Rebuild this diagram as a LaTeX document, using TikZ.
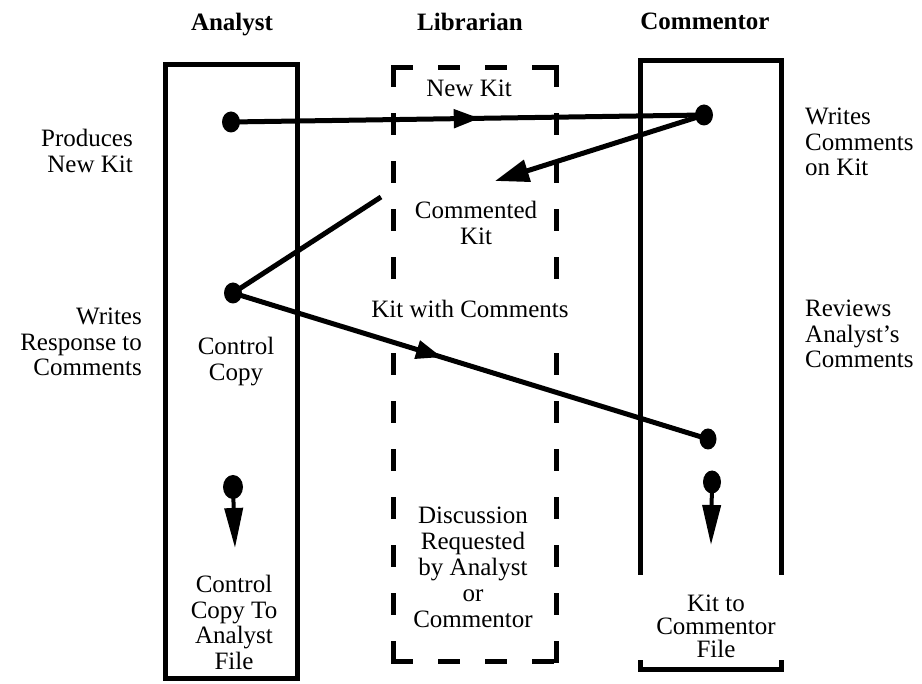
\documentclass[tikz,border=0pt]{standalone}
\usepackage{fontspec}
\setmainfont{Liberation Serif}
\usetikzlibrary{arrows.meta,shapes.geometric,decorations.markings}
\tikzset{
  dot/.style={ellipse,fill=black,draw=none,inner sep=0pt,minimum width=17pt,minimum height=21pt},
  conn/.style={line width=5pt},
  boxline/.style={line width=5pt},
  dashline/.style={line width=5pt,line cap=rect},
  hdash/.style={dashline,dash pattern=on 17pt off 30pt},
  vdash/.style={dashline,dash pattern=on 17pt off 31.04pt},
  lbl/.style={inner sep=0pt,font=\fontsize{25}{25.5}\selectfont},
  ttl/.style={inner sep=0pt,font=\fontsize{25}{25.5}\selectfont\bfseries},
  midarrow/.style={postaction={decorate},decoration={markings,
      mark=at position #1 with {\arrow{Triangle[length=26pt,width=18pt]}}}}
}
\begin{document}
\begin{tikzpicture}[x=1pt,y=-1pt]
\useasboundingbox (0,0) rectangle (922,684);
% titles
\node[ttl,anchor=base] (tA) at (232,31) {Analyst};
\node[ttl,anchor=base] (tL) at (470,31) {Librarian};
\node[ttl,anchor=base] (tC) at (705,30) {Commentor};
% Analyst box
\draw[boxline] (165,65) rectangle (297,678);
% Librarian dashed box (one dash left out on each side, behind "Kit with Comments")
\draw[hdash] (393,67.5) -- (556,67.5);
\draw[hdash] (393,661) -- (556,661);
\draw[vdash] (393,67.5) -- (393,276.66);
\draw[vdash] (393,355.74) -- (393,661);
\draw[vdash] (556,67.5) -- (556,276.66);
\draw[vdash] (556,355.74) -- (556,661);
% Commentor box (open at the sides near the bottom text)
\draw[boxline] (640,575) -- (640,61) -- (781,61) -- (781,575);
\draw[boxline] (640,660) -- (640,669) -- (781,669) -- (781,660);
% side labels (anchor base = baseline of the last line)
\node[lbl,align=right,anchor=base east] (pnk) at (133,172.5) {Produces\\New Kit};
\node[lbl,align=right,anchor=base east] (wrc) at (142,376) {Writes\\Response to\\Comments};
\node[lbl,align=left,anchor=base west] (wck) at (805,176) {Writes\\Comments\\on Kit};
\node[lbl,align=left,anchor=base west] (rac) at (805,368) {Reviews\\Analyst’s\\Comments};
% inner labels
\node[lbl,anchor=base] (nk) at (469,97) {New Kit};
\node[lbl,align=center,anchor=base] (ck) at (476,244.5) {Commented\\Kit};
\node[lbl,anchor=base] (kwc) at (470,318) {Kit with Comments};
\node[lbl,align=center,anchor=base] (cc) at (236,380.5) {Control\\Copy};
\node[lbl,align=center,anchor=base] (ccf) at (234,669) {Control\\Copy To\\Analyst\\File};
\node[lbl,align=center,anchor=base,font=\fontsize{25}{26}\selectfont] (drq) at (473,627) {Discussion\\Requested\\by Analyst\\or\\Commentor};
\node[lbl,align=center,anchor=base,font=\fontsize{25}{23}\selectfont] (kcf) at (716,657) {Kit to\\Commentor\\File};
% dots
\node[dot,minimum width=18pt] (A1) at (231,122) {};
\node[dot,minimum width=18pt] (C1) at (704,115) {};
\node[dot,minimum width=18pt] (A2) at (233,293) {};
\node[dot] (C2) at (708,439) {};
\node[dot,minimum width=20pt,minimum height=24pt] (A3) at (233,487) {};
\node[dot,minimum width=18pt,minimum height=23pt] (C3) at (712,482) {};
\coordinate (ckTip) at (495,181);
\coordinate (ckStart) at (381,197);
\coordinate (A3t) at (235,548);
\coordinate (C3t) at (711,545);
% connectors
\draw[conn,midarrow=0.526] (A1.center) -- (C1.center);
\draw[conn,-{Triangle[length=34pt,width=22pt]}] (C1.center) -- (ckTip);
\draw[conn] (ckStart) -- (A2.center);
\draw[conn,midarrow=0.44] (A2.center) -- (C2.center);
\draw[line width=4pt,-{Triangle[length=40pt,width=18pt]}] (A3.center) -- (A3t);
\draw[line width=4pt,-{Triangle[length=40pt,width=18pt]}] (C3.center) -- (C3t);
\end{tikzpicture}
\end{document}
